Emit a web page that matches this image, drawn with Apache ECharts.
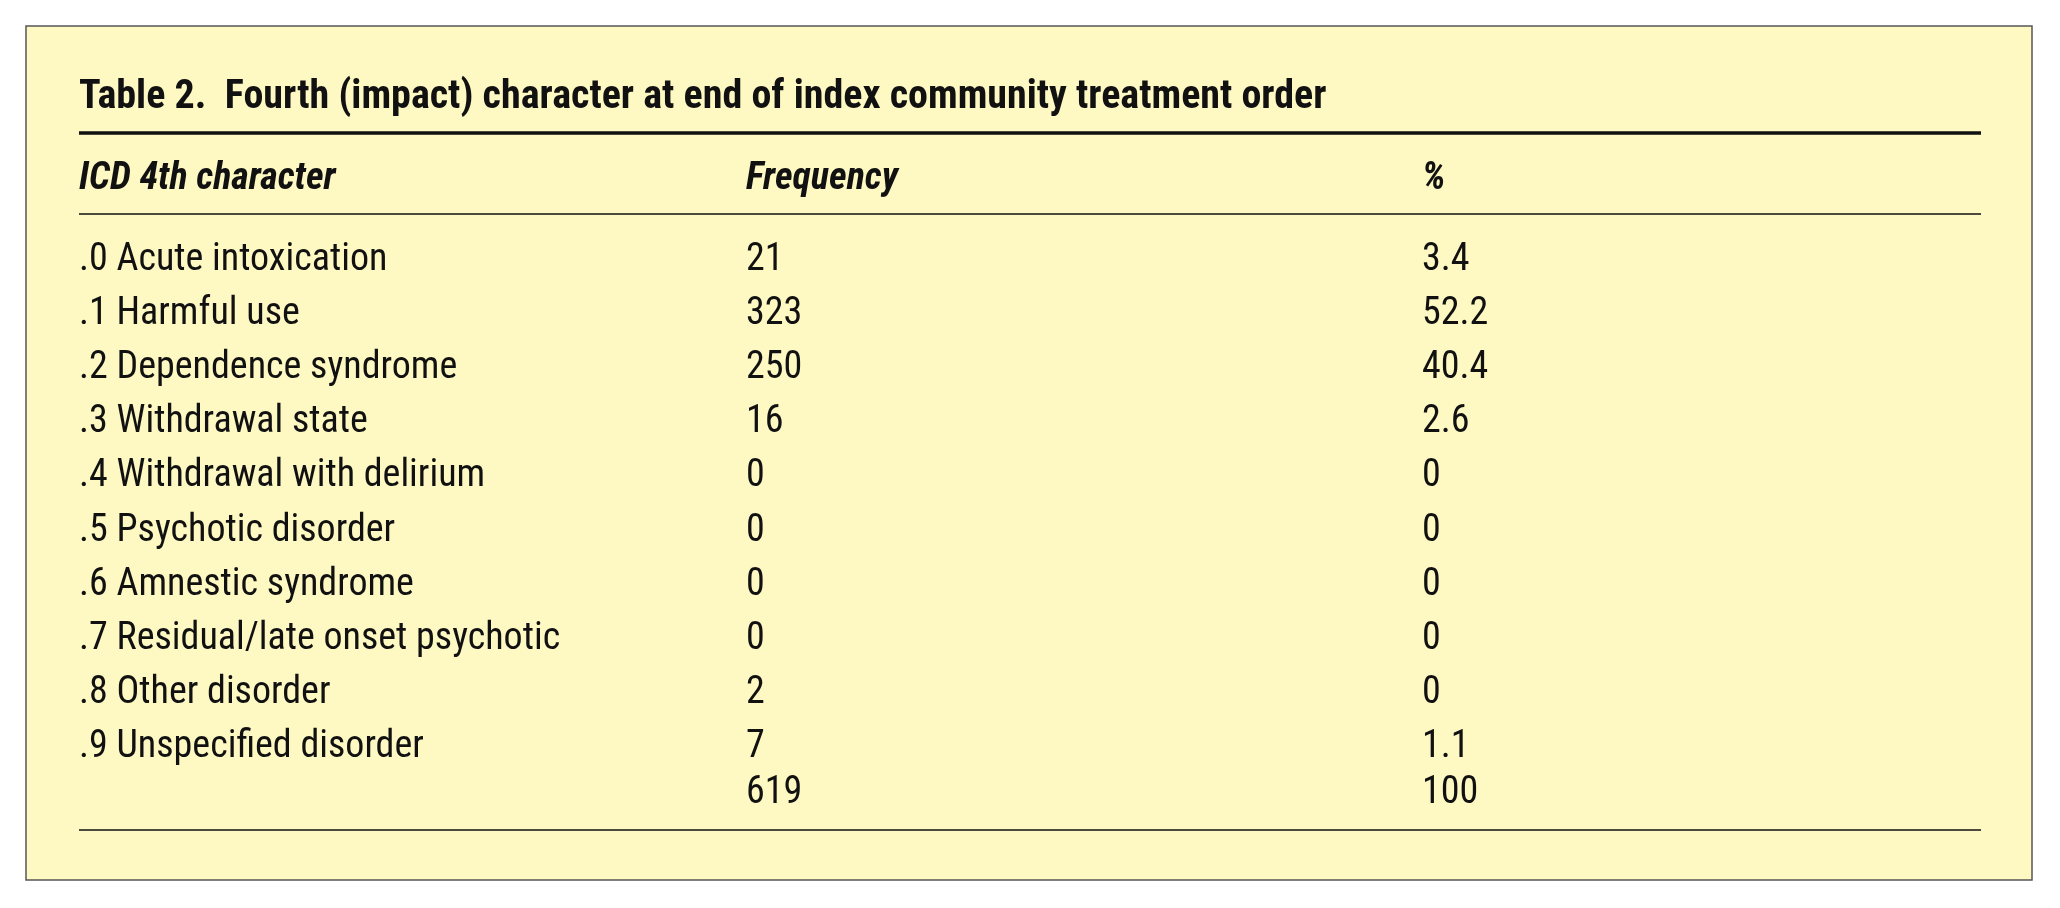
<!DOCTYPE html>
<html>
<head>
<meta charset="UTF-8">
<script src="https://cdn.jsdelivr.net/npm/echarts@6/dist/echarts.min.js"></script>
<style>
  html, body { margin: 0; padding: 0; background: #fff; }
  #chart { width: 2060px; height: 908px; }
</style>
</head>
<body>
<div id="chart"></div>
<script>
// table data
const title = 'Table 2.  Fourth (impact) character at end of index community treatment order';
const headers = ['ICD 4th character', 'Frequency', '%'];
const categories = ['.0 Acute intoxication', '.1 Harmful use', '.2 Dependence syndrome', '.3 Withdrawal state',
  '.4 Withdrawal with delirium', '.5 Psychotic disorder', '.6 Amnestic syndrome',
  '.7 Residual/late onset psychotic', '.8 Other disorder', '.9 Unspecified disorder'];
const frequency = ['21', '323', '250', '16', '0', '0', '0', '0', '2', '7'];
const percent = ['3.4', '52.2', '40.4', '2.6', '0', '0', '0', '0', '0', '1.1'];
const totals = ['', '619', '100'];

const FONT = '"Liberation Sans Narrow", "Roboto Condensed", "Liberation Sans", sans-serif';
const colX = [79, 746, 1422];
const left = 79, right = 1981;
const rowY0 = 260, rowStep = 54.2;

const g = [];
// box
g.push({ type: 'rect', shape: { x: 26, y: 26, width: 2006, height: 854 },
  style: { fill: '#fef8c3', stroke: '#555', lineWidth: 1.5 } });
g.push({ type: 'text', x: left, y: 98, style: { text: title, font: 'bold 40px ' + FONT, fill: '#111', verticalAlign: 'middle' } });
g.push({ type: 'line', shape: { x1: left, y1: 133, x2: right, y2: 133 }, style: { stroke: '#111', lineWidth: 3.5 } });
headers.forEach((h, i) => g.push({ type: 'text', x: colX[i], y: 179,
  style: { text: h, font: 'italic bold 38px ' + FONT, fill: '#111', verticalAlign: 'middle' } }));
g.push({ type: 'line', shape: { x1: left, y1: 214, x2: right, y2: 214 }, style: { stroke: '#111', lineWidth: 1.5 } });
categories.forEach((c, r) => {
  const y = rowY0 + r * rowStep;
  [c, frequency[r], percent[r]].forEach((t, i) => g.push({ type: 'text', x: colX[i], y: y,
    style: { text: t, font: '38px ' + FONT, fill: '#111', verticalAlign: 'middle' } }));
});
totals.forEach((t, i) => g.push({ type: 'text', x: colX[i], y: 793,
  style: { text: t, font: '38px ' + FONT, fill: '#111', verticalAlign: 'middle' } }));
g.push({ type: 'line', shape: { x1: left, y1: 830, x2: right, y2: 830 }, style: { stroke: '#111', lineWidth: 1.5 } });

const chart = echarts.init(document.getElementById('chart'));
chart.setOption({ animation: false, graphic: g });
</script>
</body>
</html>
